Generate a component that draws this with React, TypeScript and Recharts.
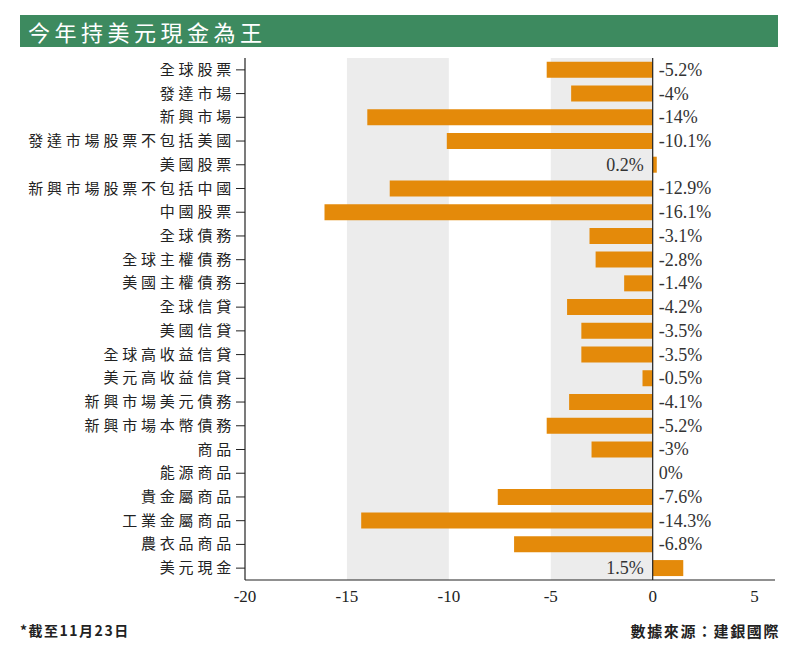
import React from "react";
import {
  BarChart,
  Bar,
  XAxis,
  YAxis,
  ReferenceArea,
  ReferenceLine,
  LabelList,
} from "recharts";

const categories = [
  "全球股票",
  "發達市場",
  "新興市場",
  "發達市場股票不包括美國",
  "美國股票",
  "新興市場股票不包括中國",
  "中國股票",
  "全球債務",
  "全球主權債務",
  "美國主權債務",
  "全球信貸",
  "美國信貸",
  "全球高收益信貸",
  "美元高收益信貸",
  "新興市場美元債務",
  "新興市場本幣債務",
  "商品",
  "能源商品",
  "貴金屬商品",
  "工業金屬商品",
  "農衣品商品",
  "美元現金",
];

const values = [
  -5.2, -4, -14, -10.1, 0.2, -12.9, -16.1, -3.1, -2.8, -1.4, -4.2, -3.5, -3.5,
  -0.5, -4.1, -5.2, -3, 0, -7.6, -14.3, -6.8, 1.5,
];

const xTicks = [-20, -15, -10, -5, 0, 5];
const shadedBands = [
  [-15, -10],
  [-5, 0],
];

const title = "今年持美元現金為王";
const footnote = "*截至11月23日";
const source = "數據來源：建銀國際";

const data = categories.map((name, i) => ({ name, value: values[i] }));

const CJK = '"Noto Sans CJK TC", "Noto Sans CJK SC", sans-serif';
const SERIF = '"Liberation Serif", "DejaVu Serif", "Noto Sans CJK TC", serif';

const YTick = (props: any) => {
  const { x, y, payload } = props;
  return (
    <text
      x={x + 1}
      y={y}
      dy={5}
      textAnchor="end"
      fontFamily={CJK}
      fontSize={15}
      letterSpacing={3.8}
      fill="#222"
    >
      {payload.value}
    </text>
  );
};

const XTick = (props: any) => {
  const { x, y, payload } = props;
  return (
    <text
      x={x}
      y={y}
      dy={14}
      textAnchor="middle"
      fontFamily={SERIF}
      fontSize={17}
      fill="#222"
    >
      {payload.value}
    </text>
  );
};

const ValueLabel = (props: any) => {
  const { x, y, width, height, value } = props;
  const v = Number(value);
  const w = Number(width) || 0;
  const xx = Number(x);
  const cy = Number(y) + Number(height) / 2;
  const text = `${v}%`;
  if (v > 0) {
    const zero = Math.min(xx, xx + w);
    return (
      <text
        x={zero - 9}
        y={cy}
        dy={6}
        textAnchor="end"
        fontFamily={SERIF}
        fontSize={18}
        fill="#333"
      >
        {text}
      </text>
    );
  }
  const zero = Math.max(xx, xx + w);
  return (
    <text
      x={zero + 6}
      y={cy}
      dy={6}
      textAnchor="start"
      fontFamily={SERIF}
      fontSize={18}
      fill="#333"
    >
      {text}
    </text>
  );
};

export default function App() {
  return (
    <div
      style={{
        position: "absolute",
        left: 0,
        top: 0,
        width: 800,
        height: 656,
        background: "#fff",
      }}
    >
      <div
        style={{
          position: "absolute",
          left: 20,
          top: 15,
          width: 758,
          height: 32,
          background: "#3d8a5f",
        }}
      >
        <div
          style={{
            position: "absolute",
            left: 8,
            top: 2,
            color: "#fff",
            fontFamily: CJK,
            fontSize: 22,
            letterSpacing: 4.5,
            lineHeight: "28px",
          }}
        >
          {title}
        </div>
      </div>
      <div style={{ position: "absolute", left: 0, top: 0 }}>
        <BarChart
          width={800}
          height={656}
          data={data}
          layout="vertical"
          margin={{ top: 58, right: 25, bottom: 46, left: 0 }}
          barCategoryGap="16%"
        >
          {shadedBands.map(([a, b], i) => (
            <ReferenceArea
              key={i}
              x1={a}
              x2={b}
              fill="#ececec"
              fillOpacity={1}
              stroke="none"
              ifOverflow="visible"
            />
          ))}
          <XAxis
            type="number"
            domain={[-20, 6]}
            ticks={xTicks}
            allowDataOverflow
            tickLine={false}
            axisLine={{ stroke: "#222", strokeWidth: 1.2 }}
            tick={<XTick />}
            height={30}
            interval={0}
          />
          <YAxis
            type="category"
            dataKey="name"
            width={245}
            interval={0}
            tickSize={9}
            tickLine={{ stroke: "#222" }}
            axisLine={{ stroke: "#222", strokeWidth: 1.2 }}
            tick={<YTick />}
          />
          <ReferenceLine x={0} stroke="#222" strokeWidth={1.2} />
          <Bar
            dataKey="value"
            fill="#e48a0a"
            isAnimationActive={false}
            minPointSize={0.01}
          >
            <LabelList dataKey="value" content={<ValueLabel />} />
          </Bar>
        </BarChart>
      </div>
      <div
        style={{
          position: "absolute",
          left: 20,
          top: 620,
          fontFamily: CJK,
          fontWeight: 700,
          fontSize: 14,
          letterSpacing: 1.5,
          color: "#222",
        }}
      >
        {footnote}
      </div>
      <div
        style={{
          position: "absolute",
          right: 20,
          top: 620,
          fontFamily: CJK,
          fontWeight: 700,
          fontSize: 15,
          color: "#222",
          letterSpacing: 1.6,
        }}
      >
        {source}
      </div>
    </div>
  );
}
